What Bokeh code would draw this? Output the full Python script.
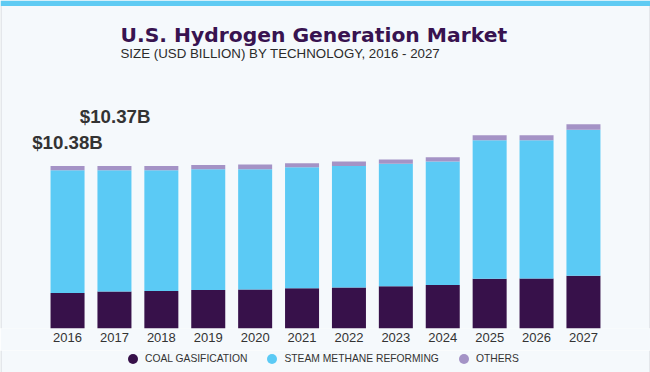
from bokeh.plotting import figure
from bokeh.layouts import column
from bokeh.models import FactorRange, Range1d, Label, Legend, LegendItem, ColumnDataSource, BoxAnnotation
from bokeh.embed import file_html
from bokeh.resources import INLINE

# ---- data (USD billion) ----
years = ["2016", "2017", "2018", "2019", "2020", "2021",
         "2022", "2023", "2024", "2025", "2026", "2027"]
coal = [2.27, 2.36, 2.40, 2.45, 2.49, 2.57, 2.62, 2.70, 2.78, 3.17, 3.19, 3.36]
steam = [7.84, 7.74, 7.71, 7.72, 7.68, 7.73, 7.76, 7.81, 7.88, 8.85, 8.83, 9.32]
others = [0.27, 0.27, 0.27, 0.26, 0.30, 0.25, 0.28, 0.28, 0.28, 0.32, 0.32, 0.36]
series = ["coal", "steam", "others"]
series_labels = ["COAL GASIFICATION", "STEAM METHANE REFORMING", "OTHERS"]
total_labels = ["$10.38B", "$10.37B"]
title_text = "U.S. Hydrogen Generation Market"
subtitle_text = "SIZE (USD BILLION) BY TECHNOLOGY, 2016 - 2027"

# ---- style / layout ----
colors = ["#37114A", "#5BCAF5", "#A493C6"]
BG = "#F5F9FC"
EDGE = "#D3D6DA"
TXT = "#333333"
W = 650
H1, H2 = 350, 22              # chart + legend strip
FB = 22                       # axis panel
FRAME_H = H1 - FB
PX_PER_CAT = 46.9
PAD = W / PX_PER_CAT - len(years)   # total padding (both sides)
PXU = 10.38 / 162.6           # value units per pixel
Y_END = FRAME_H * PXU


def xs(px):
    return px / PX_PER_CAT - PAD / 2


def ys(py):
    return (FRAME_H - py) * PXU


src = ColumnDataSource(dict(year=years, coal=coal, steam=steam, others=others))

p = figure(width=W, height=H1,
           x_range=FactorRange(*years, range_padding=PAD / 2, range_padding_units="absolute"),
           y_range=Range1d(0, Y_END),
           output_backend="svg", toolbar_location=None,
           min_border_left=0, min_border_right=0,
           min_border_bottom=FB, min_border_top=0,
           background_fill_color=BG, border_fill_color=BG,
           outline_line_color=None, y_axis_location=None)

p.vbar_stack(series, x="year", width=0.725, color=colors, line_color=None, source=src)

# top accent bar and side edges
p.add_layout(BoxAnnotation(bottom=ys(5.5), fill_color="#5FCBF3", fill_alpha=1, line_color=None))
p.add_layout(BoxAnnotation(right=xs(1), top=ys(5.5), fill_color=EDGE, fill_alpha=1, line_color=None))
p.add_layout(BoxAnnotation(left=xs(W - 1), top=ys(5.5), fill_color=EDGE, fill_alpha=1, line_color=None))

p.xgrid.visible = False
p.ygrid.visible = False
ax = p.xaxis[0]
ax.axis_line_color = None
ax.major_tick_line_color = None
ax.minor_tick_line_color = None
ax.major_tick_out = 0
ax.major_tick_in = 0
ax.major_label_text_font = "Liberation Sans"
ax.major_label_text_font_size = "13px"
ax.major_label_text_color = TXT
ax.major_label_standoff = 4

p.add_layout(Label(x=xs(120), y=ys(34.7), text=title_text,
                   text_font="DejaVu Sans", text_font_style="bold",
                   text_font_size="20.3px", text_color="#381350",
                   text_baseline="middle", text_align="left"))
p.add_layout(Label(x=xs(120), y=ys(53.3), text=subtitle_text,
                   text_font="Liberation Sans", text_font_size="13.3px",
                   text_color="#2b2b2b",
                   text_baseline="middle", text_align="left"))
p.add_layout(Label(x=xs(31.7), y=ys(142.2), text=total_labels[0],
                   text_font="Liberation Sans", text_font_style="bold",
                   text_font_size="18.7px", text_color=TXT,
                   text_baseline="middle", text_align="left"))
p.add_layout(Label(x=xs(79.3), y=ys(116), text=total_labels[1],
                   text_font="Liberation Sans", text_font_style="bold",
                   text_font_size="18.7px", text_color=TXT,
                   text_baseline="middle", text_align="left"))

# ---- legend strip ----
p2 = figure(width=W, height=H2, x_range=p.x_range, y_range=Range1d(0, 1),
            output_backend="svg", toolbar_location=None,
            min_border_left=0, min_border_right=0,
            min_border_bottom=0, min_border_top=0,
            background_fill_color=BG, border_fill_color=BG,
            outline_line_color=None, x_axis_location=None, y_axis_location=None)
p2.xgrid.visible = False
p2.ygrid.visible = False
p2.add_layout(BoxAnnotation(right=xs(1), fill_color=EDGE, fill_alpha=1, line_color=None))
p2.add_layout(BoxAnnotation(left=xs(W - 1), fill_color=EDGE, fill_alpha=1, line_color=None))
items = []
for name, lbl, c in zip(series, series_labels, colors):
    r = p2.scatter(x="year", y=name, source=src, marker="circle",
                   color=c, line_color=None, visible=False)
    items.append(LegendItem(label=lbl, renderers=[r]))
legend = Legend(items=items, orientation="horizontal", location=(120, 1),
                glyph_width=25, glyph_height=25, label_height=25,
                label_standoff=-2, spacing=12, padding=0, margin=0,
                border_line_color=None, background_fill_alpha=0,
                inactive_fill_alpha=0,
                label_text_font="Liberation Sans", label_text_font_size="10.3px",
                label_text_color=TXT)
p2.add_layout(legend, "center")

layout = column(p, p2, spacing=0)
open("out.html", "w").write(file_html(layout, INLINE))
